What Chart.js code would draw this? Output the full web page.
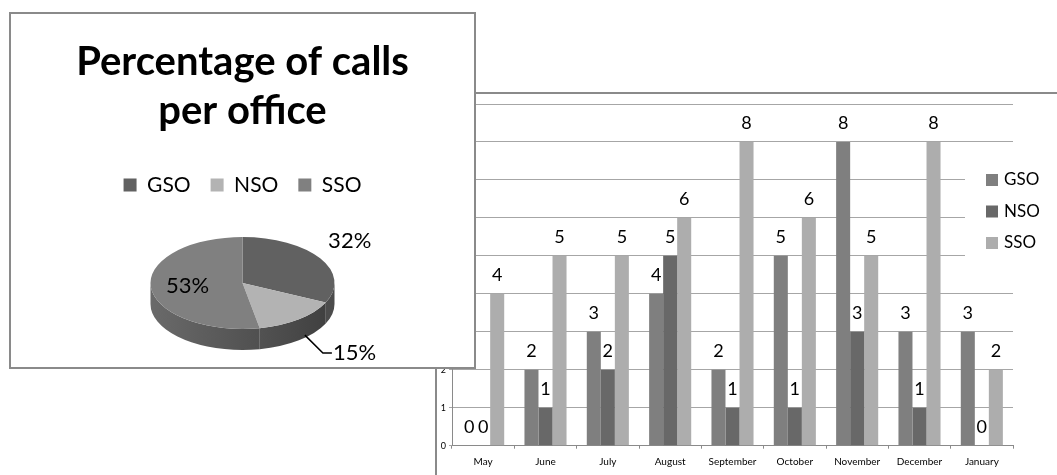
<!DOCTYPE html>
<html>
<head>
<meta charset="utf-8">
<script src="https://cdn.jsdelivr.net/npm/chart.js@4.4.1/dist/chart.umd.min.js"></script>
<style>
  html, body { margin: 0; padding: 0; background: #fff; overflow: hidden; width: 1057px; height: 475px; }
  #barBox { position: absolute; left: 435px; top: 92px; width: 700px; height: 450px;
            border-left: 2px solid #8a8a8a; border-top: 2px solid #8a8a8a; }
  #pieBox { position: absolute; left: 9px; top: 12px; width: 467px; height: 357px; box-sizing: border-box;
            border: 2px solid #8a8a8a; background: #fff; }
  canvas { display: block; }
</style>
</head>
<body>
<div id="barBox"><canvas id="barChart" width="620" height="381"></canvas></div>
<div id="pieBox"><canvas id="pieChart" width="463" height="353"></canvas></div>
<script>
// monthly calls per office
const months = ['May', 'June', 'July', 'August', 'September', 'October', 'November', 'December', 'January'];
const gsoCalls = [0, 2, 3, 4, 2, 5, 8, 3, 3];
const nsoCalls = [0, 1, 2, 5, 1, 1, 3, 1, 0];
const ssoCalls = [4, 5, 5, 6, 8, 6, 5, 8, 2];
const yMax = 9;

// share of calls per office (pie)
const offices = ['GSO', 'NSO', 'SSO'];
const officeShare = [32, 15, 53];

const FONT = 'Lato';
const TILT = 0.5;
const DEPTH = 21;

// values above each bar
const valueLabels = {
    id: 'valueLabels',
    afterDatasetsDraw(chart) {
        const ctx = chart.ctx;
        ctx.save();
        ctx.font = '18px ' + FONT;
        ctx.fillStyle = '#000';
        ctx.textAlign = 'center';
        ctx.textBaseline = 'middle';
        chart.data.datasets.forEach((ds, i) => {
            chart.getDatasetMeta(i).data.forEach((bar, j) => {
                ctx.fillText(ds.data[j], bar.x, bar.y - 19);
            });
        });
        ctx.restore();
    }
};

// legend box sitting over the right end of the plot
const sideLegend = {
    id: 'sideLegend',
    afterDraw(chart) {
        const ctx = chart.ctx;
        ctx.save();
        ctx.fillStyle = '#fff';
        ctx.fillRect(528, 66, 92, 110);
        ctx.font = '17px ' + FONT;
        ctx.textBaseline = 'middle';
        chart.data.datasets.forEach((ds, i) => {
            const y = 86 + i * 31.5;
            ctx.fillStyle = ds.backgroundColor;
            ctx.fillRect(549, y - 6, 12, 12);
            ctx.fillStyle = '#000';
            ctx.fillText(ds.label, 567, y);
        });
        ctx.restore();
    }
};

function frontRanges(a0, a1) {
    const out = [];
    for (let k = -1; k <= 1; k++) {
        const lo = Math.max(a0, 2 * Math.PI * k);
        const hi = Math.min(a1, 2 * Math.PI * k + Math.PI);
        if (hi > lo) out.push([lo, hi]);
    }
    return out;
}

// tilted pie: side wall first, then squash the top face
const sideColors = ['#4c4c4c', '#6f6f6f', '#6a6a6a'];
const pie3d = {
    id: 'pie3d',
    beforeDatasetsDraw(chart) {
        const ctx = chart.ctx;
        const arcs = chart.getDatasetMeta(0).data;
        const cx = arcs[0].x, cy = arcs[0].y, r = arcs[0].outerRadius, ry = r * TILT;
        arcs.forEach((arc, i) => {
            frontRanges(arc.startAngle, arc.endAngle).forEach(([a0, a1]) => {
                ctx.beginPath();
                ctx.ellipse(cx, cy, r, ry, 0, a0, a1);
                ctx.ellipse(cx, cy + DEPTH, r, ry, 0, a1, a0, true);
                ctx.closePath();
                const g = ctx.createLinearGradient(cx - r, 0, cx + r, 0);
                g.addColorStop(0, sideColors[i]);
                g.addColorStop(1, '#3e3e3e');
                ctx.fillStyle = i === 0 ? sideColors[0] : g;
                ctx.fill();
            });
        });
        ctx.save();
        ctx.translate(cx, cy);
        ctx.scale(1, TILT);
        ctx.translate(-cx, -cy);
    },
    afterDatasetsDraw(chart) {
        const ctx = chart.ctx;
        ctx.restore();
        const arcs = chart.getDatasetMeta(0).data;
        const cx = arcs[0].x, cy = arcs[0].y, r = arcs[0].outerRadius, ry = r * TILT;
        ctx.save();
        ctx.font = '22px ' + FONT;
        ctx.fillStyle = '#000';
        ctx.textBaseline = 'middle';
        arcs.forEach((arc, i) => {
            const mid = (arc.startAngle + arc.endAngle) / 2;
            const text = officeShare[i] + '%';
            if (i === 1) {
                // callout for the small slice
                const sx = cx + r * Math.cos(mid) + 6, sy = cy + ry * Math.sin(mid) + DEPTH * 0.75;
                ctx.strokeStyle = '#000';
                ctx.lineWidth = 1.5;
                ctx.beginPath();
                ctx.moveTo(sx, sy);
                ctx.lineTo(sx + 18, sy + 18);
                ctx.lineTo(sx + 27, sy + 18);
                ctx.stroke();
                ctx.textAlign = 'left';
                ctx.fillText(text, sx + 28, sy + 18);
            } else if (i === 0) {
                ctx.textAlign = 'center';
                ctx.fillText(text, cx + r * Math.cos(mid) * 1.38, cy + ry * Math.sin(mid) * 1.38 - 8);
            } else {
                ctx.textAlign = 'center';
                ctx.fillText(text, cx + r * Math.cos(mid) * 0.6, cy + ry * Math.sin(mid) * 0.6);
            }
        });
        ctx.restore();
    }
};

window.onload = function() {
    new Chart(document.getElementById('barChart').getContext('2d'), {
        type: 'bar',
        data: {
            labels: months,
            datasets: [
                { label: 'GSO', data: gsoCalls, backgroundColor: '#7f7f7f' },
                { label: 'NSO', data: nsoCalls, backgroundColor: '#686868' },
                { label: 'SSO', data: ssoCalls, backgroundColor: '#adadad' }
            ]
        },
        options: {
            responsive: false,
            animation: false,
            categoryPercentage: 0.675,
            barPercentage: 1,
            layout: { padding: { top: 10, right: 44, left: 0, bottom: 0 } },
            plugins: { legend: { display: false }, tooltip: { enabled: false } },
            scales: {
                x: {
                    grid: { drawOnChartArea: false, tickLength: 3, color: '#8a8a8a' },
                    border: { color: '#8a8a8a' },
                    ticks: { color: '#000', font: { family: FONT, size: 10 }, padding: 7, maxRotation: 0 },
                    afterFit(scale) { scale.height = 29.3; }
                },
                y: {
                    min: 0, max: yMax,
                    grid: { color: '#a6a6a6', tickLength: 3 },
                    border: { color: '#8a8a8a' },
                    ticks: { stepSize: 1, color: '#000', font: { family: FONT, size: 9 }, padding: 3 },
                    afterFit(scale) { scale.width = 15; }
                }
            }
        },
        plugins: [valueLabels, sideLegend]
    });

    new Chart(document.getElementById('pieChart').getContext('2d'), {
        type: 'pie',
        data: {
            labels: offices,
            datasets: [{
                data: officeShare,
                backgroundColor: ['#616161', '#b3b3b3', '#808080'],
                borderWidth: 0,
                radius: 92,
                clip: false
            }]
        },
        options: {
            responsive: false,
            animation: false,
            layout: { padding: { bottom: 6.5 } },
            plugins: {
                title: {
                    display: true,
                    text: ['Percentage of calls', 'per office'],
                    color: '#000',
                    font: { family: FONT, size: 40, weight: 'bold', lineHeight: 1.225 },
                    padding: { top: 24, bottom: 18.5 }
                },
                legend: {
                    position: 'top',
                    labels: { color: '#000', boxWidth: 13, boxHeight: 13, padding: 20,
                              font: { family: FONT, size: 21 } }
                },
                tooltip: { enabled: false }
            }
        },
        plugins: [pie3d]
    });
};
</script>
</body>
</html>
